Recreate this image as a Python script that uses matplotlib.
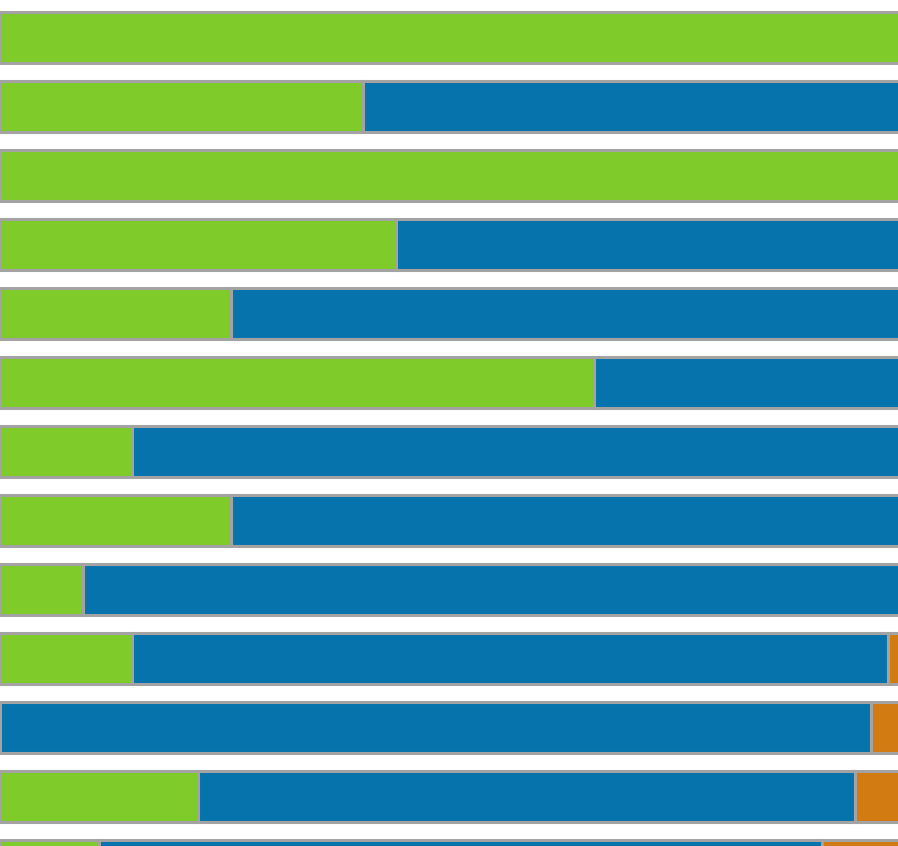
import matplotlib
matplotlib.use('Agg')
import matplotlib.pyplot as plt
import numpy as np

# segment widths per row (top to bottom), in chart units
green = [30, 11, 30, 12, 7, 18, 4, 7, 2.5, 4, 0, 6, 3]
blue = [0, 19, 0, 18, 23, 12, 26, 23, 27.5, 22.9, 26.4, 19.9, 21.9]
orange = [0, 0, 0, 0, 0, 0, 0, 0, 0, 3, 3, 3, 3]

colors = {'green': '#7ecb29', 'blue': '#0673ac', 'orange': '#d27b13'}
edge = '#a3a3a3'

fig = plt.figure(figsize=(8.98, 8.46), dpi=100)
ax = fig.add_axes([0, 0, 1, 1])

rows = np.arange(len(green))
g = np.array(green)
b = np.array(blue)
o = np.array(orange)

kw = dict(height=0.725, edgecolor=edge, linewidth=2.2)
ax.barh(rows, g, left=0, color=colors['green'], **kw)
ax.barh(rows, b, left=g, color=colors['blue'], **kw)
ax.barh(rows, o, left=g + b, color=colors['orange'], **kw)

ax.set_xlim(0, 898 / 33)
ax.set_ylim((846 - 37.5) / 69, -37.5 / 69)
ax.axis('off')

plt.savefig('out.png', dpi=100)
